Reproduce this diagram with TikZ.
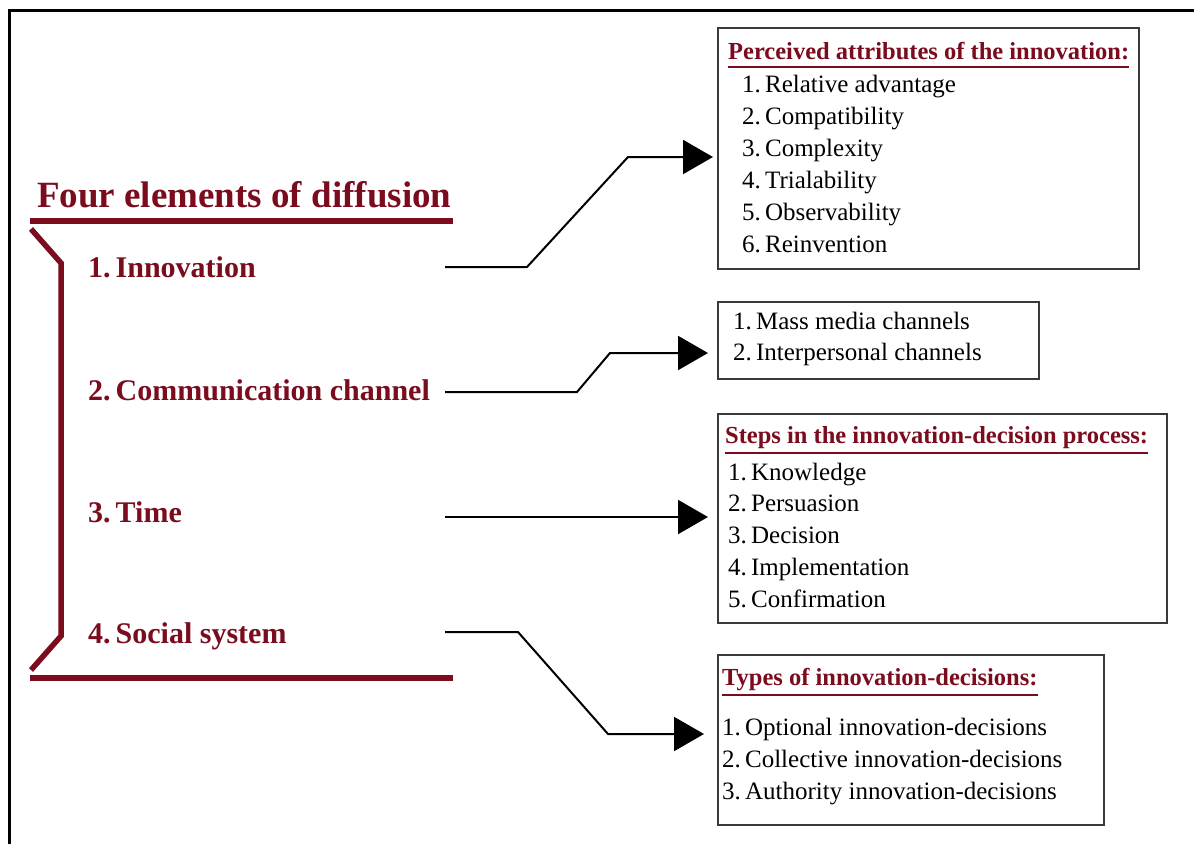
\documentclass[tikz,border=0pt]{standalone}
\usepackage{fontspec}
\setmainfont{Liberation Serif}
\usetikzlibrary{arrows.meta}
\definecolor{diffred}{HTML}{7A0C1E}
\definecolor{boxgray}{HTML}{3A3A3A}
\begin{document}
\begin{tikzpicture}[x=1pt,y=-1pt,
  heading/.style={font=\fontsize{37}{40}\selectfont\bfseries, text=diffred, anchor=base west, inner sep=0pt},
  element/.style={font=\fontsize{30}{34}\selectfont\bfseries, text=diffred, anchor=base west, inner sep=0pt},
  box/.style={draw=boxgray, line width=2pt, anchor=north west, inner sep=0pt},
  boxtitle/.style={font=\fontsize{24.5}{28}\selectfont\bfseries, text=diffred, anchor=base west, inner sep=0pt},
  entry/.style={font=\fontsize{25}{28}\selectfont, text=black, anchor=base west, inner sep=0pt},
  bar/.style={draw=diffred, line width=5.5pt},
  uline/.style={draw=diffred, line width=2pt},
  conn/.style={draw=black, line width=2pt, -{Triangle[length=30pt,width=34pt]}},
]
\useasboundingbox (0,0) rectangle (1194,844);
\fill[white] (0,0) rectangle (1194,844);

% outer frame (top and left edges)
\draw[line width=3pt] (9,844) -- (9,10) -- (1194,10);

% heading and the bracket that groups the four elements
\node[heading] (title) at (37,207) {Four elements of diffusion};
\draw[bar] (30,221) -- (453,221);
\draw[bar, line join=miter] (31,229) -- (61,263) -- (61,636) -- (31,670);
\draw[bar] (30,678) -- (453,678);

\node[element] (i1) at (88,277) {1.\,Innovation};
\node[element] (i2) at (88,400) {2.\,Communication channel};
\node[element] (i3) at (88,522) {3.\,Time};
\node[element] (i4) at (88,643) {4.\,Social system};

% detail boxes
\node[box, minimum width=421pt, minimum height=241pt] (b1) at (717,27) {};
\node[box, minimum width=321pt, minimum height=77pt]  (b2) at (717,301) {};
\node[box, minimum width=449pt, minimum height=209pt] (b3) at (717,413) {};
\node[box, minimum width=386pt, minimum height=170pt] (b4) at (717,654) {};

% box 1: attributes
\node[boxtitle] (t1) at (728,59) {Perceived attributes of the innovation:};
\draw[uline] ([yshift=-8pt]t1.base west) -- ([yshift=-8pt]t1.base east);
\foreach \txt [count=\k] in {Relative advantage, Compatibility, Complexity, Trialability, Observability, Reinvention}
  \node[entry] (a\k) at (742, {92 + (\k-1)*32}) {\k.\,\txt};

% box 2: channels
\node[entry] (c1) at (733,329) {1.\,Mass media channels};
\node[entry] (c2) at (733,360) {2.\,Interpersonal channels};

% box 3: process steps
\node[boxtitle] (t3) at (725,443) {Steps in the innovation-decision process:};
\draw[uline] ([yshift=-10pt]t3.base west) -- ([yshift=-10pt]t3.base east);
\foreach \txt [count=\k] in {Knowledge, Persuasion, Decision, Implementation, Confirmation}
  \node[entry] (p\k) at (728, {480 + (\k-1)*31.75}) {\k.\,\txt};

% box 4: decision types
\node[boxtitle] (t4) at (722,685) {Types of innovation-decisions:};
\draw[uline] ([yshift=-10pt]t4.base west) -- ([yshift=-10pt]t4.base east);
\foreach \txt [count=\k] in {Optional, Collective, Authority}
  \node[entry] (d\k) at (722, {735 + (\k-1)*32}) {\k.\,\txt\ innovation-decisions};

% connectors
\coordinate (s1) at (445,267);
\coordinate (s2) at (445,392);
\coordinate (s3) at (445,517);
\coordinate (s4) at (445,632);
\draw[conn, shorten >=4pt]  (s1) -- (527,267) -- (628,157) -- (b1.west |- 0,157);
\draw[conn, shorten >=9pt]  (s2) -- (577,392) -- (610,353) -- (b2.west |- 0,353);
\draw[conn, shorten >=9pt]  (s3) -- (b3.west |- s3);
\draw[conn, shorten >=13pt] (s4) -- (518,632) -- (608,734) -- (b4.west |- 0,734);
\end{tikzpicture}
\end{document}
